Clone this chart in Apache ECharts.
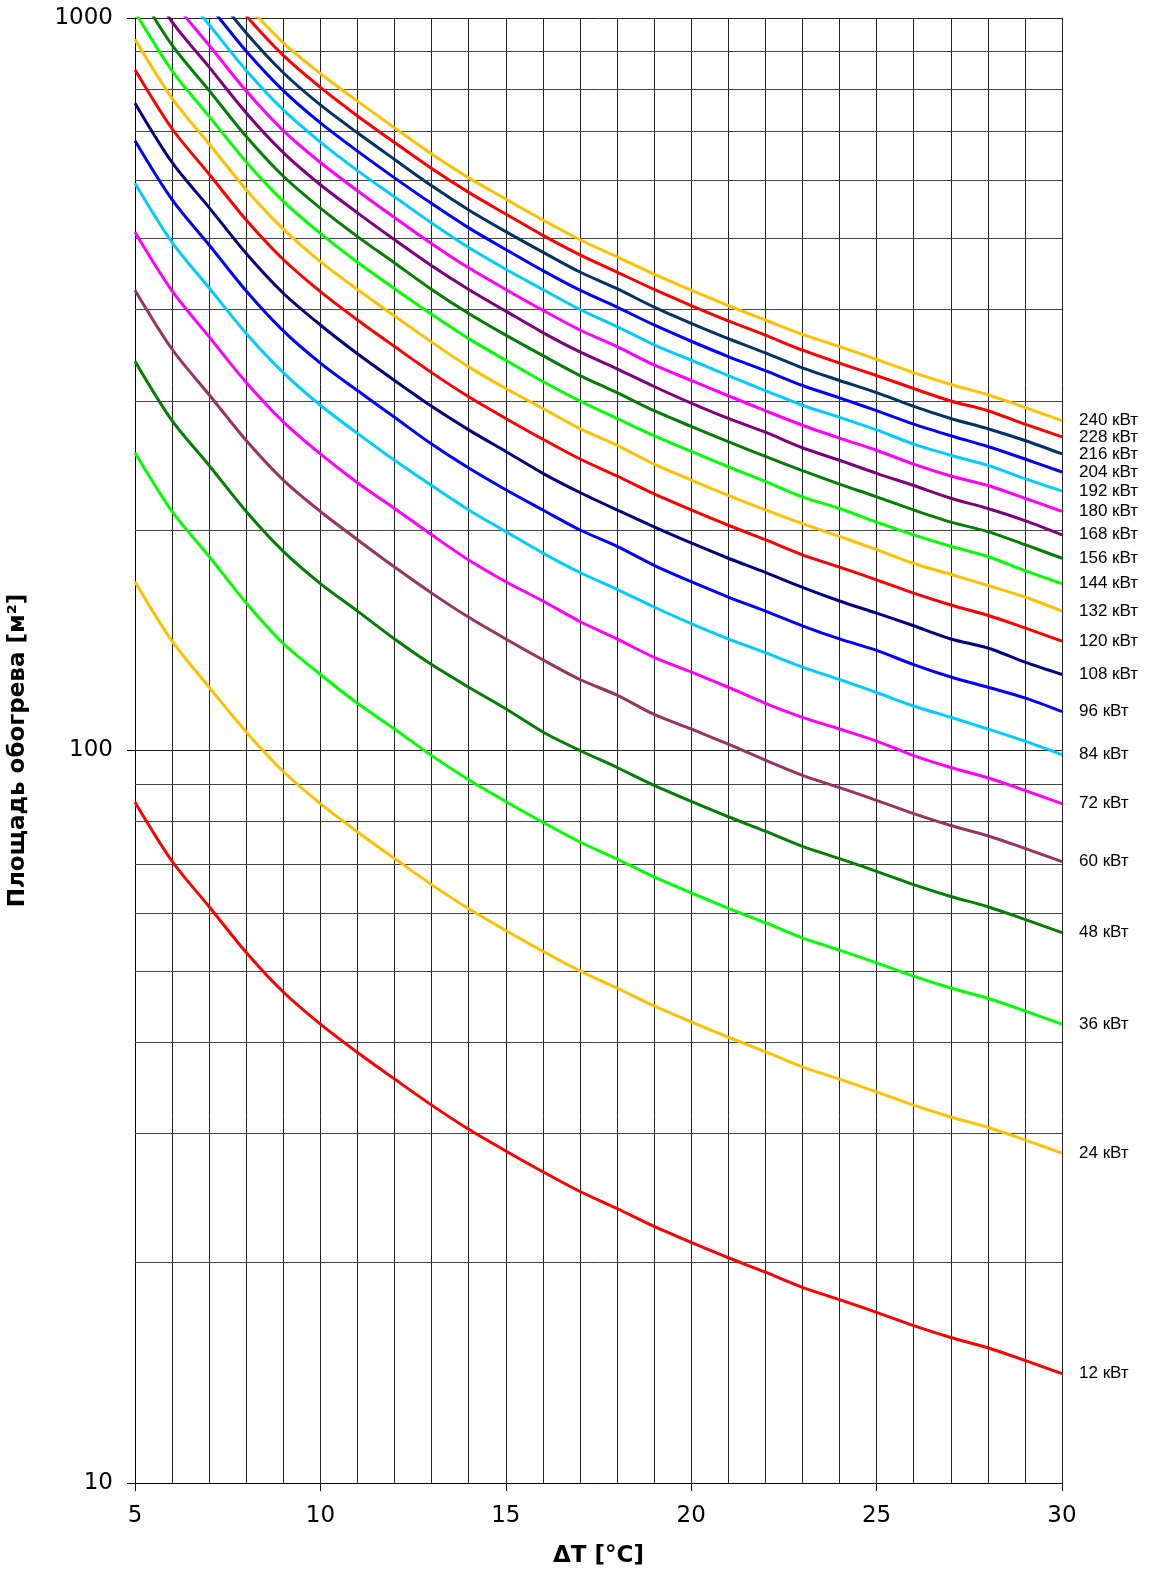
<!DOCTYPE html>
<html>
<head>
<meta charset="utf-8">
<script src="https://cdn.jsdelivr.net/npm/echarts@6/dist/echarts.min.js"></script>
<style>
html,body{margin:0;padding:0;background:#fff;}
#chart{width:1151px;height:1570px;}
</style>
</head>
<body>
<div id="chart"></div>
<script>
// ΔT values (°C)
const dT = [5,6,7,8,9,10,11,12,13,14,15,16,17,18,19,20,21,22,23,24,25,26,27,28,29,30];
// Heating area [m²] per power curve
const kw12  = [85,70.6,61.2,53,46.8,42.3,38.7,35.6,32.8,30.4,28.4,26.6,25.0,23.7,22.4,21.3,20.3,19.4,18.5,17.8,17.1,16.4,15.8,15.3,14.7,14.1];
const kw24  = [170,141,122,106,93.6,84.6,77.4,71.2,65.6,60.8,56.8,53.2,50,47.4,44.8,42.6,40.6,38.8,37,35.6,34.2,32.8,31.6,30.6,29.4,28.2];
const kw36  = [255,212,184,159,140,127,116,107,98.4,91.2,85.2,79.8,75,71.1,67.2,63.9,60.9,58.2,55.5,53.4,51.3,49.2,47.4,45.9,44.1,42.3];
const kw48  = [340,282,245,212,187,169,155,142,131,122,114,106,100,94.8,89.6,85.2,81.2,77.6,74,71.2,68.4,65.6,63.2,61.2,58.8,56.4];
const kw60  = [425,353,306,265,234,212,194,178,164,152,142,133,125,119,112,107,102,97,92.5,89,85.5,82,79,76.5,73.5,70.5];
const kw72  = [510,424,367,318,281,254,232,214,197,182,170,160,150,142,134,128,122,116,111,107,103,98.4,94.8,91.8,88.2,84.6];
const kw84  = [595,494,428,371,328,296,271,249,230,213,199,186,175,166,157,149,142,136,130,125,120,115,111,107,103,98.7];
const kw96  = [680,565,490,424,374,338,310,285,262,243,227,213,200,190,179,170,162,155,148,142,137,131,126,122,118,113];
const kw108 = [765,635,551,477,421,381,348,320,295,274,256,239,225,213,202,192,183,175,167,160,154,148,142,138,132,127];
const kw120 = [850,706,612,530,468,423,387,356,328,304,284,266,250,237,224,213,203,194,185,178,171,164,158,153,147,141];
const kw132 = [935,777,673,583,515,465,426,392,361,334,312,293,275,261,246,234,223,213,204,196,188,180,174,168,162,155];
const kw144 = [1020,847,734,636,562,508,464,427,394,365,341,319,300,284,269,256,244,233,222,214,205,197,190,184,176,169];
const kw156 = [1105,918,796,689,608,550,503,463,426,395,369,346,325,308,291,277,264,252,241,231,222,213,205,199,191,183];
const kw168 = [1190,988,857,742,655,592,542,498,459,426,398,372,350,332,314,298,284,272,259,249,239,230,221,214,206,197];
const kw180 = [1275,1059,918,795,702,635,581,534,492,456,426,399,375,356,336,320,305,291,278,267,257,246,237,230,221,212];
const kw192 = [1360,1130,979,848,749,677,619,570,525,486,454,426,400,379,358,341,325,310,296,285,274,262,253,245,235,226];
const kw204 = [1445,1200,1040,901,796,719,658,605,558,517,483,452,425,403,381,362,345,330,315,303,291,279,269,260,250,240];
const kw216 = [1530,1271,1102,954,842,761,697,641,590,547,511,479,450,427,403,383,365,349,333,320,308,295,284,275,265,254];
const kw228 = [1615,1341,1163,1007,889,804,735,676,623,578,540,505,475,450,426,405,386,369,352,338,325,312,300,291,279,268];
const kw240 = [1680,1400,1210,1045,925,840,770,708,652,605,566,530,498,472,447,425,405,387,370,356,342,328,316,306,294,282];
// Series names (labels at line ends)
const seriesNames = ['12 кВт','24 кВт','36 кВт','48 кВт','60 кВт','72 кВт','84 кВт','96 кВт','108 кВт','120 кВт','132 кВт','144 кВт','156 кВт','168 кВт','180 кВт','192 кВт','204 кВт','216 кВт','228 кВт','240 кВт'];
const seriesData = [kw12,kw24,kw36,kw48,kw60,kw72,kw84,kw96,kw108,kw120,kw132,kw144,kw156,kw168,kw180,kw192,kw204,kw216,kw228,kw240];
const seriesColors = ['#FF0000','#FFC000','#00FF00','#008000','#993366','#FF00FF','#00CCFF','#0000FF','#000080','#FF0000','#FFC000','#00FF00','#008000','#800080','#FF00FF','#00CCFF','#0000FF','#003366','#FF0000','#FFC000'];
// Horizontal minor grid lines on the log axis
const yMinorGrid = [20,30,40,50,60,70,80,90,200,300,400,500,600,700,800,900];

const chart = echarts.init(document.getElementById('chart'), null, {renderer:'canvas'});

const series = seriesNames.map((name, i) => ({
  name: name,
  type: 'line',
  data: dT.map((t, j) => [t, seriesData[i][j]]),
  showSymbol: false,
  symbol: 'none',
  smooth: 0.3,
  clip: true,
  lineStyle: {color: seriesColors[i], width: 3},
  itemStyle: {color: seriesColors[i]},
  z: 5,
  endLabel: {
    show: true,
    formatter: name,
    color: '#000',
    fontSize: 17,
    fontFamily: 'Liberation Sans, Arial, sans-serif',
    distance: 17
  }
}));

series.push({
  type: 'line',
  data: [],
  silent: true,
  z: 1,
  markLine: {
    silent: true,
    symbol: 'none',
    animation: false,
    label: {show: false},
    lineStyle: {color: '#444', width: 1, type: 'solid'},
    data: yMinorGrid.map(v => ({yAxis: v}))
  }
});

const axisFont = 'DejaVu Sans, Verdana, sans-serif';

chart.setOption({
  animation: false,
  backgroundColor: '#fff',
  grid: {left: 135, right: 89, top: 18, bottom: 87, containLabel: false, outerBoundsMode: 'none'},
  xAxis: {
    type: 'value',
    min: 5, max: 30, interval: 5,
    name: 'ΔT [°C]',
    nameLocation: 'middle',
    nameGap: 62,
    nameTextStyle: {fontSize: 23, fontWeight: 'bold', fontFamily: axisFont, color: '#000'},
    axisLine: {show: true, lineStyle: {color: '#000', width: 1}},
    axisTick: {show: true, length: 8, lineStyle: {color: '#000'}},
    axisLabel: {fontSize: 23, color: '#000', fontFamily: axisFont, margin: 22},
    splitLine: {show: true, lineStyle: {color: '#222', width: 1}},
    minorTick: {show: false},
    minorSplitLine: {show: true, lineStyle: {color: '#222', width: 1}}
  },
  yAxis: {
    type: 'log',
    logBase: 10,
    min: 10, max: 1000,
    name: 'Площадь обогрева [м²]',
    nameLocation: 'middle',
    nameGap: 105,
    nameRotate: 90,
    nameTextStyle: {fontSize: 23, fontWeight: 'bold', fontFamily: axisFont, color: '#000'},
    axisLine: {show: true, lineStyle: {color: '#000', width: 1}},
    axisTick: {show: true, length: 8, lineStyle: {color: '#000'}},
    axisLabel: {fontSize: 23, color: '#000', fontFamily: axisFont, margin: 22, formatter: v => String(v)},
    splitLine: {show: true, lineStyle: {color: '#222', width: 1}}
  },
  series: series
});
</script>
</body>
</html>
